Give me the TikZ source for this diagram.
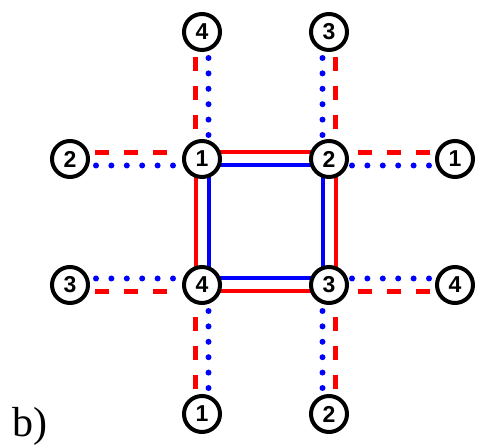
\documentclass[tikz,border=0pt]{standalone}
\usepackage{fontspec}
\setmainfont{Liberation Sans}
\newfontfamily\tagfont{Liberation Serif}
\usetikzlibrary{backgrounds}
\definecolor{bondred}{RGB}{255,0,0}
\definecolor{bondblue}{RGB}{0,0,255}
\tikzset{
  site/.style={circle, draw=black, line width=4pt, fill=white,
    minimum size=36pt, inner sep=0pt,
    font=\bfseries\fontsize{23}{23}\selectfont},
  redbond/.style={draw=bondred, line width=4pt},
  bluebond/.style={draw=bondblue, line width=4pt},
  redlink/.style={draw=bondred, line width=4.5pt,
    dash pattern=on 14pt off 15pt, dash phase=24pt},
  bluelink/.style={draw=bondblue, line width=6pt, line cap=round,
    dash pattern=on 0pt off 15.4pt, dash phase=9.4pt},
}
\begin{document}
\begin{tikzpicture}[x=1pt, y=1pt]
\useasboundingbox (0,0) rectangle (477,446);

% inner plaquette
\node[site] (c1) at (202,287) {1};
\node[site] (c2) at (329,287) {2};
\node[site] (c3) at (329,161) {3};
\node[site] (c4) at (202,161) {4};

% outer sites
\node[site] (t4) at (202,414) {4};
\node[site] (t3) at (329,414) {3};
\node[site] (l2) at (70,287) {2};
\node[site] (l3) at (70,161) {3};
\node[site] (r1) at (455,287) {1};
\node[site] (r4) at (455,161) {4};
\node[site] (b1) at (202,32) {1};
\node[site] (b2) at (329,32) {2};

\node[anchor=base west, inner sep=0pt,
  font=\tagfont\fontsize{42}{42}\selectfont] (tag) at (12,9) {b)};

\begin{pgfonlayer}{background}
  % square: red outside, blue inside
  \draw[redbond] ([shift={(-6.5,6.5)}]c1.center) -- ([shift={(6.5,6.5)}]c2.center)
    -- ([shift={(6.5,-6.5)}]c3.center) -- ([shift={(-6.5,-6.5)}]c4.center) -- cycle;
  \draw[bluebond] ([shift={(6.5,-6.5)}]c1.center) -- ([shift={(-6.5,-6.5)}]c2.center)
    -- ([shift={(-6.5,6.5)}]c3.center) -- ([shift={(6.5,6.5)}]c4.center) -- cycle;

  % top links
  \draw[redlink]  ([xshift=-6.5pt]t4.south) -- ([xshift=-6.5pt]c1.north);
  \draw[bluelink] ([xshift=6.5pt]t4.south) -- ([xshift=6.5pt]c1.north);
  \draw[bluelink] ([xshift=-6.5pt]t3.south) -- ([xshift=-6.5pt]c2.north);
  \draw[redlink]  ([xshift=6.5pt]t3.south) -- ([xshift=6.5pt]c2.north);

  % left links
  \draw[redlink]  ([yshift=6.5pt]l2.east) -- ([yshift=6.5pt]c1.west);
  \draw[bluelink] ([yshift=-6.5pt]l2.east) -- ([yshift=-6.5pt]c1.west);
  \draw[bluelink] ([yshift=6.5pt]l3.east) -- ([yshift=6.5pt]c4.west);
  \draw[redlink]  ([yshift=-6.5pt]l3.east) -- ([yshift=-6.5pt]c4.west);

  % right links
  \draw[redlink]  ([yshift=6.5pt]r1.west) -- ([yshift=6.5pt]c2.east);
  \draw[bluelink] ([yshift=-6.5pt]r1.west) -- ([yshift=-6.5pt]c2.east);
  \draw[bluelink] ([yshift=6.5pt]r4.west) -- ([yshift=6.5pt]c3.east);
  \draw[redlink]  ([yshift=-6.5pt]r4.west) -- ([yshift=-6.5pt]c3.east);

  % bottom links
  \draw[redlink]  ([xshift=-6.5pt]b1.north) -- ([xshift=-6.5pt]c4.south);
  \draw[bluelink] ([xshift=6.5pt]b1.north) -- ([xshift=6.5pt]c4.south);
  \draw[bluelink] ([xshift=-6.5pt]b2.north) -- ([xshift=-6.5pt]c3.south);
  \draw[redlink]  ([xshift=6.5pt]b2.north) -- ([xshift=6.5pt]c3.south);
\end{pgfonlayer}
\end{tikzpicture}
\end{document}
